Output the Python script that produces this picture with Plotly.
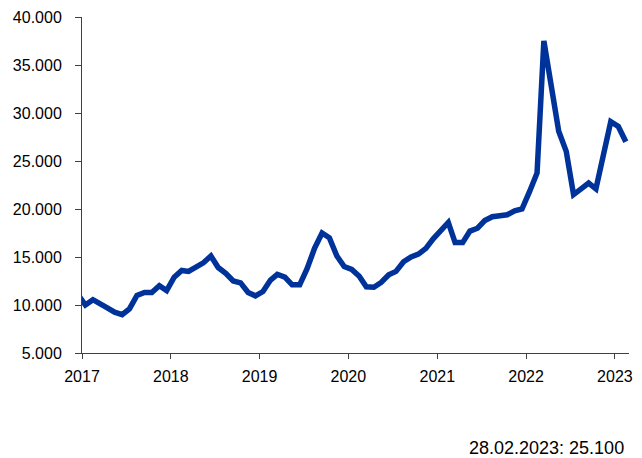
import plotly.graph_objects as go

# Monthly values (plotted mid-month); the December 2016 point only feeds the clipped lead-in
months = [
    "2016-12-15",
    "2017-01-15", "2017-02-15", "2017-03-15", "2017-04-15", "2017-05-15", "2017-06-15",
    "2017-07-15", "2017-08-15", "2017-09-15", "2017-10-15", "2017-11-15", "2017-12-15",
    "2018-01-15", "2018-02-15", "2018-03-15", "2018-04-15", "2018-05-15", "2018-06-15",
    "2018-07-15", "2018-08-15", "2018-09-15", "2018-10-15", "2018-11-15", "2018-12-15",
    "2019-01-15", "2019-02-15", "2019-03-15", "2019-04-15", "2019-05-15", "2019-06-15",
    "2019-07-15", "2019-08-15", "2019-09-15", "2019-10-15", "2019-11-15", "2019-12-15",
    "2020-01-15", "2020-02-15", "2020-03-15", "2020-04-15", "2020-05-15", "2020-06-15",
    "2020-07-15", "2020-08-15", "2020-09-15", "2020-10-15", "2020-11-15", "2020-12-15",
    "2021-01-15", "2021-02-15", "2021-03-15", "2021-04-15", "2021-05-15", "2021-06-15",
    "2021-07-15", "2021-08-15", "2021-09-15", "2021-10-15", "2021-11-15", "2021-12-15",
    "2022-01-15", "2022-02-15", "2022-03-15", "2022-04-15", "2022-05-15", "2022-06-15",
    "2022-07-15", "2022-08-15", "2022-09-15", "2022-10-15", "2022-11-15", "2022-12-15",
    "2023-01-15", "2023-02-15",
]
values = [
    11100,
    10000, 10550, 10200, 9700, 9250, 9000,
    9600, 11000, 11300, 11300, 12000, 11500,
    12900, 13600, 13500, 14000, 14400, 15100,
    13900, 13300, 12500, 12300, 11300, 10950,
    11400, 12600, 13200, 12900, 12100, 12100,
    13750, 15900, 17500, 17000, 15100, 14000,
    13700, 13000, 11900, 11850, 12350, 13150,
    13500, 14500, 15000, 15300, 15900, 16900,
    17800, 18600, 16500, 16500, 17700, 18000,
    18800, 19200, 19300, 19400, 19800, 20000,
    21800, 23750, 37500, 33100, 28100, 26000,
    21500, 22100, 22700, 22100, 25500, 29100,
    28600, 27000,
]

y_ticks = [5000, 10000, 15000, 20000, 25000, 30000, 35000, 40000]
x_range = ["2017-01-01", "2023-02-28"]

latest_date = "28.02.2023"
latest_value = 25100

line_color = "#003399"
axis_color = "#404040"
font_family = "Liberation Sans, Arial, sans-serif"

fig = go.Figure()
fig.add_trace(go.Scatter(
    x=months,
    y=values,
    mode="lines",
    line=dict(color=line_color, width=5.5),
    hoverinfo="skip",
    showlegend=False,
))

fig.update_layout(
    width=642,
    height=458,
    margin=dict(l=82, r=9, t=17, b=105),
    paper_bgcolor="white",
    plot_bgcolor="white",
    separators=",.",
    font=dict(family=font_family, size=16, color="#000000"),
    xaxis=dict(
        type="date",
        range=x_range,
        tick0="2017-01-01",
        dtick="M12",
        tickformat="%Y",
        ticks="outside",
        ticklen=5,
        tickcolor=axis_color,
        showline=True,
        linecolor=axis_color,
        linewidth=1,
        showgrid=False,
        zeroline=False,
        ticklabelstandoff=4,
    ),
    yaxis=dict(
        range=[5000, 40000],
        tickvals=y_ticks,
        tickformat=",d",
        ticks="outside",
        ticklen=6,
        tickcolor=axis_color,
        showline=True,
        linecolor=axis_color,
        linewidth=1,
        showgrid=False,
        zeroline=False,
        ticklabelstandoff=10,
    ),
    annotations=[dict(
        text=f"{latest_date}: {latest_value:,}".replace(",", "."),
        xref="paper", yref="paper",
        x=0.9937, y=-0.282,
        xanchor="right", yanchor="middle",
        showarrow=False,
        font=dict(family=font_family, size=18, color="#000000"),
    )],
)

fig.write_html("out.html")
